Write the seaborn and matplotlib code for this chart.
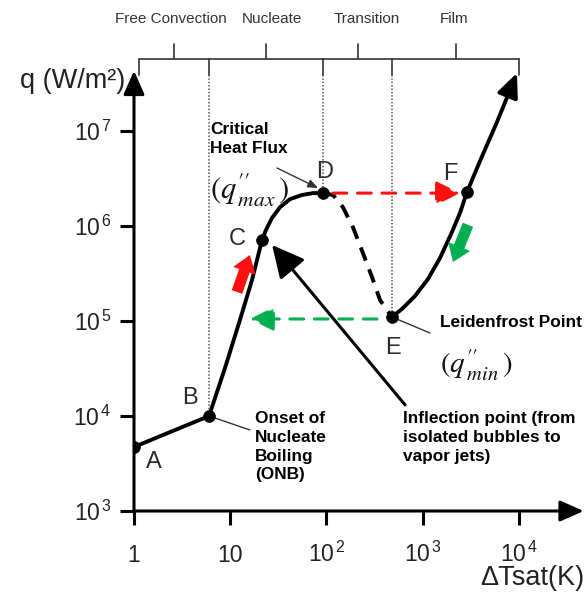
import numpy as np
import matplotlib
matplotlib.use('Agg')
import matplotlib.pyplot as plt
import seaborn as sns

# boiling curve (delta T sat in K, q in W/m2)
dt_lower = [1.0, 6.02, 8.82, 12.63, 16.83, 21.38, 23.5, 27.1, 32.9, 41.8, 55.6, 72.4, 92.0]
q_lower = [4.72e3, 1.0e4, 3.20e4, 1.03e5, 2.70e5, 7.12e5, 9.08e5, 1.21e6, 1.58e6,
           1.92e6, 2.12e6, 2.22e6, 2.22e6]

dt_transition = [92.0, 117, 148, 188, 239, 297, 360, 480]
q_transition = [2.22e6, 2.12e6, 1.58e6, 9.75e5, 5.20e5, 2.90e5, 1.66e5, 1.10e5]

dt_film = [480, 623, 830, 1134, 1511, 2014, 2438, 2884, 3936, 5902, 7691]
q_film = [1.10e5, 1.37e5, 1.83e5, 2.77e5, 4.60e5, 8.65e5, 1.37e6, 2.28e6, 4.83e6, 1.24e7, 2.39e7]
film_tip = (9530, 4.08e7)

point_names = ['A', 'B', 'C', 'D', 'E', 'F']
point_dt = [1.0, 6.02, 21.38, 92.0, 480, 2884]
point_q = [4.72e3, 1.0e4, 7.12e5, 2.22e6, 1.10e5, 2.28e6]

regions = ['Free Convection', 'Nucleate', 'Transition', 'Film']
region_label_dt = [2.42, 27.2, 264, 2113]

xticks = [1, 10, 100, 1000, 10000]
xtick_labels = ['1', '10', r'$\mathregular{10^{\,2}}$', r'$\mathregular{10^{\,3}}$',
                r'$\mathregular{10^{\,4}}$']
yticks = [1e3, 1e4, 1e5, 1e6, 1e7]
ytick_labels = [r'$\mathregular{10^{\,3}}$', r'$\mathregular{10^{\,4}}$', r'$\mathregular{10^{\,5}}$',
                r'$\mathregular{10^{\,6}}$', r'$\mathregular{10^{\,7}}$']

RED = '#ff1010'
GREEN = '#00b050'

sns.set_style('white')
plt.rcParams['font.family'] = ['Liberation Sans', 'DejaVu Sans']
plt.rcParams['mathtext.fontset'] = 'custom'
plt.rcParams['mathtext.rm'] = 'Liberation Sans'
plt.rcParams['mathtext.it'] = 'Liberation Sans:italic'
plt.rcParams['mathtext.bf'] = 'Liberation Sans:bold'

fig = plt.figure(figsize=(5.85, 5.92), dpi=100)
ax = fig.add_axes([134 / 585, 81 / 592, 451 / 585, 511 / 592])
ax.set_xscale('log')
ax.set_yscale('log')
ax.set_xlim(1, 10 ** 4.686)
ax.set_ylim(1e3, 10 ** 8.379)
for s in ax.spines.values():
    s.set_visible(False)


def arrow(start, end, color='black', lw=2.2, ls='-', style='-|>', ms=18):
    ax.annotate('', xy=end, xytext=start, annotation_clip=False,
                arrowprops=dict(arrowstyle=style, color=color, lw=lw, linestyle=ls,
                                shrinkA=0, shrinkB=0, mutation_scale=ms))


# axes with arrow heads
arrow((1, 1e3), (1, 4.3e7), lw=2.2, style='-|>,head_length=0.9,head_width=0.4', ms=16)
arrow((1, 1e3), (4.7e4, 1e3), lw=2.2, style='-|>,head_length=0.9,head_width=0.4', ms=16)

ax.set_xticks(xticks)
ax.set_xticklabels(xtick_labels)
ax.set_yticks(yticks)
ax.set_yticklabels(ytick_labels)
ax.xaxis.set_minor_locator(matplotlib.ticker.NullLocator())
ax.yaxis.set_minor_locator(matplotlib.ticker.NullLocator())
ax.tick_params(axis='both', which='major', length=10, width=2.2, color='black',
               labelsize=16.5, labelcolor='#222222', left=True, bottom=True)
ax.tick_params(axis='x', pad=27)
ax.tick_params(axis='y', pad=6)
for lab in ax.get_xticklabels():
    lab.set_va('baseline')

# boiling curve
sns.lineplot(x=dt_lower, y=q_lower, sort=False, ax=ax, color='black', lw=2.8)
sns.lineplot(x=dt_transition, y=q_transition, sort=False, ax=ax, color='black', lw=2.8,
             linestyle=(0, (3.6, 2.4)))
sns.lineplot(x=dt_film, y=q_film, sort=False, ax=ax, color='black', lw=2.8)
arrow((dt_film[-1], q_film[-1]), film_tip, lw=2.8, style='-|>,head_length=0.9,head_width=0.4', ms=16)
sns.scatterplot(x=point_dt, y=point_q, ax=ax, color='black', s=70, zorder=5, edgecolor='black')

label_offsets = {'A': (14, -11), 'B': (-14, 13), 'C': (-18, 1), 'D': (1, 15), 'E': (1, -22),
                 'F': (-12, 13)}
for name, x, y in zip(point_names, point_dt, point_q):
    ax.annotate(name, (x, y), xytext=label_offsets[name], textcoords='offset points',
                ha='center', va='center', fontsize=17, color='#2a2a2a')

# regime bracket at the top
y_br, y_up, y_end, y_lab = 10 ** 7.758, 10 ** 7.916, 10 ** 7.589, 10 ** 8.179
bounds = [1.127, point_dt[1], point_dt[3], point_dt[4], 1e4]
ax.plot([bounds[0], bounds[-1]], [y_br, y_br], color='#333333', lw=1.2, clip_on=False)
for xb in [bounds[0], bounds[-1]]:
    ax.plot([xb, xb], [y_br, y_end], color='#333333', lw=1.2, clip_on=False)
for i, xb in enumerate(bounds[1:4]):
    ax.plot([xb, xb], [y_br, y_end], color='#333333', lw=1.2)
    qv = point_q[[1, 3, 4][i]]
    ax.plot([xb, xb], [y_end, qv], color='#555555', lw=1.1, linestyle=(0, (1, 1.2)))
for a, b, name, lx in zip(bounds[:-1], bounds[1:], regions, region_label_dt):
    xm = np.sqrt(a * b)
    ax.plot([xm, xm], [y_br, y_up], color='#333333', lw=1.2, clip_on=False)
    ax.text(lx, y_lab, name, ha='center', va='center', fontsize=11, color='#333333')

# transitions
arrow((117, 2.22e6), (2438, 2.22e6), color=RED, lw=2.2, ls=(0, (4.5, 3.5)),
      style='-|>,head_length=0.8,head_width=0.4', ms=18)
arrow((335, 1.05e5), (16.0, 1.05e5), color=GREEN, lw=2.2, ls=(0, (4.5, 3.5)),
      style='-|>,head_length=0.8,head_width=0.4', ms=18)
arrow((11.75, 2.02e5), (16.0, 4.95e5), color=RED, lw=0,
      style='simple,head_length=0.6,head_width=0.85,tail_width=0.4', ms=20)
arrow((2951, 1.03e6), (2061, 4.18e5), color=GREEN, lw=0,
      style='simple,head_length=0.6,head_width=0.85,tail_width=0.4', ms=20)

# annotations
arrow((655, 1.31e4), (27.2, 6.31e5), lw=2.2, style='-|>,head_length=1.1,head_width=0.55', ms=18)
arrow((30.6, 4.08e6), (81.6, 2.51e6), color='#333333', lw=1.0,
      style='-|>,head_length=0.6,head_width=0.25', ms=10)
arrow((480, 1.10e5), (1189, 7.48e4), color='#333333', lw=1.0, style='-')
arrow((6.02, 1.0e4), (16.0, 7.13e3), color='#333333', lw=1.0, style='-')

bold = dict(fontsize=12.4, fontweight='bold', color='black', linespacing=1.3)
ax.text(6.16, 1.24e7, 'Critical\nHeat Flux', ha='left', va='top', **bold)
ax.text(1511, 9.53e4, 'Leidenfrost Point', ha='left', va='center', clip_on=False, **bold)
ax.text(18.1, 1.12e4, 'Onset of\nNucleate\nBoiling\n(ONB)', ha='left', va='top', **bold)
ax.text(623, 1.12e4, 'Inflection point (from\nisolated bubbles to\nvapor jets)', ha='left',
        va='top', **bold)
ax.text(6.16, 2.39e6, r'$(q^{\prime\prime}_{\,max}\,)$', ha='left', va='center', fontsize=22,
        math_fontfamily='stix', color='#111111')
ax.text(1511, 3.44e4, r'$(q^{\prime\prime}_{\,min}\,)$', ha='left', va='center', fontsize=21,
        math_fontfamily='stix', color='#111111')

fig.text(125 / 585, 1 - 81 / 592, 'q (W/m²)', ha='right', va='center', fontsize=19.5, color='#222222')
fig.text(584 / 585, 1 - 578 / 592, 'ΔTsat(K)', ha='right', va='center', fontsize=19.5, color='#222222')

fig.savefig('out.png', dpi=100)
